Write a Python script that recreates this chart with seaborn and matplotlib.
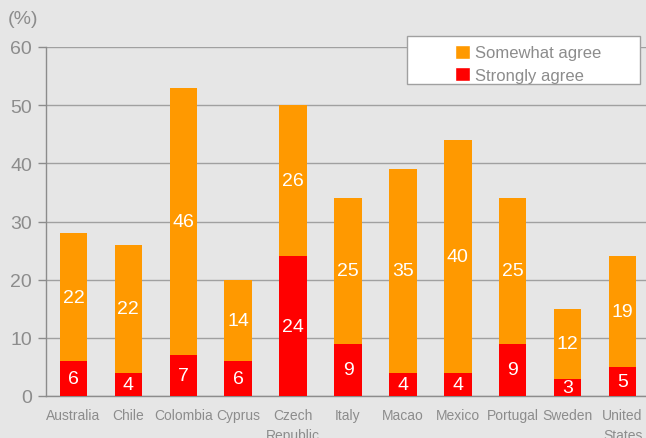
import matplotlib
matplotlib.use("Agg")
import matplotlib.pyplot as plt
import seaborn as sns
import pandas as pd
from matplotlib.patches import Rectangle, Patch

countries = ["Australia", "Chile", "Colombia", "Cyprus", "Czech\nRepublic", "Italy",
             "Macao", "Mexico", "Portugal", "Sweden", "United\nStates"]
strongly = [6, 4, 7, 6, 24, 9, 4, 4, 9, 3, 5]
somewhat = [22, 22, 46, 14, 26, 25, 35, 40, 25, 12, 19]
yticks = [0, 10, 20, 30, 40, 50, 60]

ORANGE = "#FF9900"
RED = "#FF0000"
BG = "#E6E6E6"
GRAY = "#8C8C8C"

sns.set_theme(style="white")
plt.rcParams["font.family"] = ["Liberation Sans", "DejaVu Sans"]

df = pd.DataFrame({"country": countries, "strongly": strongly, "somewhat": somewhat})
df["total"] = df["strongly"] + df["somewhat"]

fig = plt.figure(figsize=(6.46, 4.39), dpi=100, facecolor=BG)
ax = fig.add_axes([46 / 646, 1 - 397 / 439, 604 / 646, (397 - 48) / 439])
ax.set_facecolor(BG)

sns.barplot(data=df, x="country", y="total", color=ORANGE, width=0.5, ax=ax,
            saturation=1, zorder=2, linewidth=0)
sns.barplot(data=df, x="country", y="strongly", color=RED, width=0.5, ax=ax,
            saturation=1, zorder=3, linewidth=0)

for i, (s, w) in enumerate(zip(strongly, somewhat)):
    ax.text(i, s / 2, str(s), ha="center", va="center", color="white", fontsize=14, zorder=4)
    ax.text(i, s + w / 2, str(w), ha="center", va="center", color="white", fontsize=14, zorder=4)

ax.set_xlim(-0.5, len(countries) - 0.5)
ax.set_ylim(0, 60)
ax.set_yticks(yticks)
ax.set_yticklabels([str(v) for v in yticks], fontsize=14, color=GRAY)
ax.yaxis.grid(True, color="#A0A0A0", linewidth=1, zorder=0)
ax.set_axisbelow(True)
ax.set_xlabel("")
ax.set_ylabel("")
ax.tick_params(axis="x", which="major", length=0, labelsize=10, labelcolor=GRAY, pad=9)
ax.set_xticks(range(len(countries)))
ax.set_xticklabels(countries, fontsize=10, color=GRAY, linespacing=1.5)
ax.set_xticks([i - 0.5 for i in range(len(countries) + 1)], minor=True)
ax.tick_params(axis="x", which="minor", length=5, color=GRAY, width=1, direction="out")
ax.tick_params(axis="y", length=6, color=GRAY, width=1, direction="out", left=True, pad=4)
for side in ["top", "right"]:
    ax.spines[side].set_visible(False)
for side in ["left", "bottom"]:
    ax.spines[side].set_color(GRAY)
    ax.spines[side].set_linewidth(1)

fig.text(8 / 646, 1 - 20 / 439, "(%)", fontsize=14, color=GRAY, va="center", ha="left")

# legend box
fig.patches.append(Rectangle((407 / 646, 1 - 85 / 439), 233 / 646, 48 / 439,
                             transform=fig.transFigure, facecolor="white",
                             edgecolor="#A0A0A0", linewidth=1, zorder=5))
handles = [Patch(facecolor=ORANGE, label="Somewhat agree"),
           Patch(facecolor=RED, label="Strongly agree")]
leg = fig.legend(handles=handles, loc="upper left", bbox_to_anchor=(448 / 646, 1 - 39 / 439),
                 frameon=False, fontsize=12, handlelength=0.9, handleheight=0.9,
                 handletextpad=0.3, labelspacing=0.4, borderaxespad=0)
for t in leg.get_texts():
    t.set_color(GRAY)
leg.set_zorder(6)

fig.savefig("out.png", dpi=100, facecolor=BG)
